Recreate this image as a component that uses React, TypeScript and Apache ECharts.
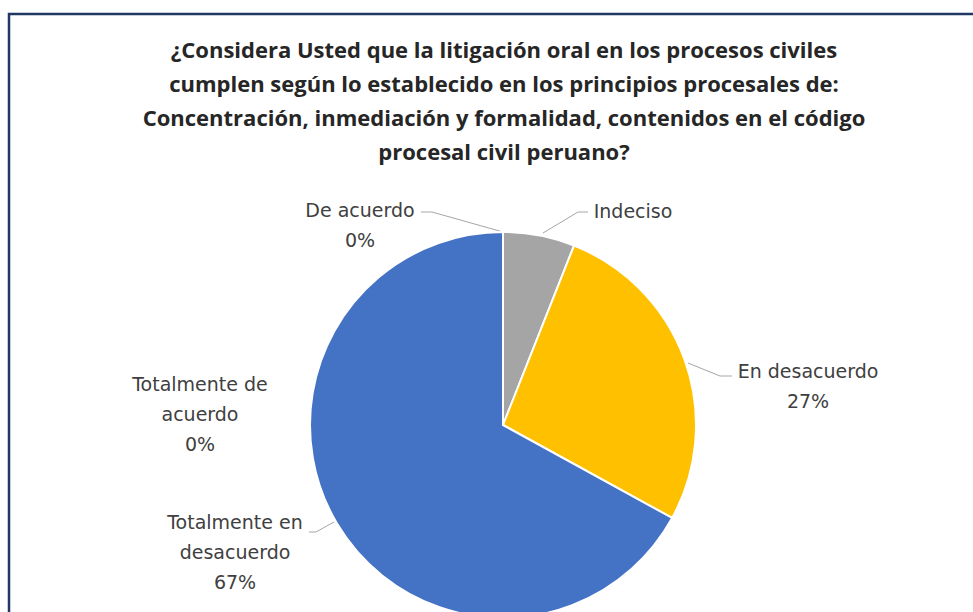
import React, { useEffect, useRef } from "react";
import * as echarts from "echarts";

const titleLines = [
  "¿Considera Usted que la litigación oral en los procesos civiles",
  "cumplen según lo establecido en los principios procesales de:",
  "Concentración, inmediación y formalidad, contenidos en el código",
  "procesal civil peruano?",
];
const categories = [
  "Indeciso",
  "En desacuerdo",
  "Totalmente en desacuerdo",
  "Totalmente de acuerdo",
  "De acuerdo",
];
const labelNames = [
  "Indeciso",
  "En desacuerdo",
  "Totalmente en\ndesacuerdo",
  "Totalmente de\nacuerdo",
  "De acuerdo",
];
const showPercent = [false, true, true, true, true];
const values = [6, 27, 67, 0, 0];
const colors = ["#A5A5A5", "#FFC000", "#4472C4", "#70AD47", "#ED7D31"];

// label placement (style, not data)
const labelPos: { x: number; y: number; line: number[][] | null }[] = [
  { x: 633, y: 196, line: [[543, 233], [578, 212], [588, 212]] },
  { x: 808, y: 356, line: [[688, 363], [720, 376], [732, 376]] },
  { x: 235, y: 507, line: [[334, 522], [316, 532], [309, 532]] },
  { x: 200, y: 369, line: null },
  { x: 360, y: 195, line: [[503, 232], [432, 212], [421, 212]] },
];

export default function App() {
  const ref = useRef<HTMLDivElement>(null);
  useEffect(() => {
    if (!ref.current) return;
    const chart = echarts.init(ref.current, null, { renderer: "svg" });
    chart.setOption({
      animation: false,
      backgroundColor: "#ffffff",
      title: {
        text: titleLines.join("\n"),
        left: 499,
        top: 27,
        textAlign: "center",
        textStyle: {
          fontFamily: "Open Sans",
          fontWeight: "bold",
          fontSize: 22,
          lineHeight: 34,
          color: "#262626",
        },
      },
      graphic: [
        {
          type: "rect",
          shape: { x: 9, y: 14, width: 1100, height: 800 },
          style: { fill: "none", stroke: "#1F3864", lineWidth: 2.5 },
          silent: true,
        },
      ],
      series: [
        {
          type: "pie",
          center: [503, 425],
          radius: 193,
          startAngle: 90,
          clockwise: true,
          minShowLabelAngle: 0,
          itemStyle: { borderColor: "#ffffff", borderWidth: 2 },
          label: {
            show: true,
            fontFamily: "DejaVu Sans",
            fontSize: 19,
            lineHeight: 30,
            color: "#404040",
            align: "center",
            formatter: (p: any) =>
              labelNames[p.dataIndex] +
              (showPercent[p.dataIndex] ? "\n" + Math.round(p.percent) + "%" : ""),
          },
          labelLine: {
            show: true,
            lineStyle: { color: "#A6A6A6", width: 1 },
          },
          labelLayout: (p: any) => {
            const lp = labelPos[p.dataIndex];
            const out: any = {
              x: lp.x,
              y: lp.y,
              align: "center",
              verticalAlign: "top",
            };
            if (lp.line) out.labelLinePoints = lp.line;
            else out.labelLinePoints = [[lp.x, lp.y], [lp.x, lp.y], [lp.x, lp.y]];
            return out;
          },
          data: categories.map((c, i) => ({
            name: c,
            value: values[i],
            itemStyle: { color: colors[i] },
            labelLine: { show: labelPos[i].line !== null },
          })),
        },
      ],
    });
    return () => chart.dispose();
  }, []);
  return (
    <div
      ref={ref}
      style={{ position: "absolute", left: 0, top: 0, width: 973, height: 612 }}
    />
  );
}
